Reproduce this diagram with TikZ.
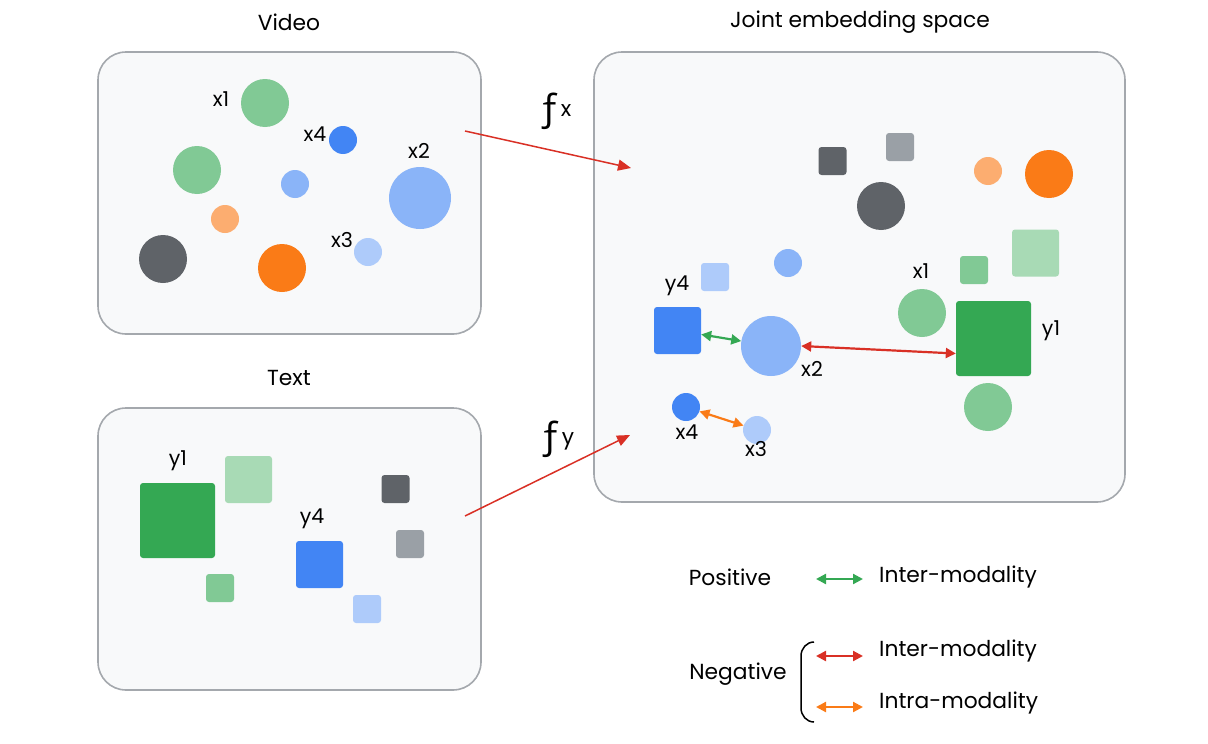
\documentclass[tikz,border=0pt]{standalone}
\usepackage{fontspec}
\setmainfont{Poppins}
\newfontfamily\ffam{Open Sans}
\usetikzlibrary{arrows.meta,calc}
\definecolor{gdark}{HTML}{34A853}
\definecolor{gmid}{HTML}{81C995}
\definecolor{glight}{HTML}{A8DAB5}
\definecolor{bdark}{HTML}{4285F4}
\definecolor{bmid}{HTML}{8AB4F8}
\definecolor{blight}{HTML}{AECBFA}
\definecolor{odark}{HTML}{FA7B17}
\definecolor{olight}{HTML}{FCAD70}
\definecolor{kdark}{HTML}{5F6368}
\definecolor{kmid}{HTML}{9AA0A6}
\definecolor{redc}{HTML}{D93025}
\definecolor{panelfill}{HTML}{F8F9FA}
\definecolor{panelborder}{HTML}{A4A8AD}
\begin{document}
\begin{tikzpicture}[x=1pt,y=-1pt,
  font=\fontsize{21.8}{24}\selectfont,
  panel/.style={draw=panelborder, line width=1.6pt, fill=panelfill, rounded corners=28pt},
  dot/.style={circle, inner sep=0pt, minimum size=#1},
  sq/.style={rectangle, rounded corners=3pt, inner sep=0pt, minimum size=#1},
  lbl/.style={inner sep=0pt},
  small/.style={inner sep=0pt, font=\fontsize{20.5}{23}\selectfont},
  map/.style={draw=redc, line width=1.5pt, -{Triangle[length=13pt,width=11pt]}},
  dbl/.style={line width=2.2pt, {Triangle[length=10pt,width=10pt]}-{Triangle[length=10pt,width=10pt]}}
]
\useasboundingbox (0,0) rectangle (1208,744);

% panels
\draw[panel] (98,52) rectangle (481,334);
\draw[panel] (98,408) rectangle (481,690);
\draw[panel] (594,52) rectangle (1125,502);

% titles
\node[lbl] (tvideo) at (289,22) {Video};
\node[lbl] (ttext) at (289,378) {Text};
\node[lbl] (tjoint) at (860,22) {Joint embedding space};

% video panel
\node[dot=48, fill=gmid] (vx1) at (265,103) {};
\node[small] (lvx1) at (221,99) {x1};
\node[dot=48, fill=gmid] (vg2) at (197,170) {};
\node[dot=28, fill=bdark] (vx4) at (343,140) {};
\node[small] (lvx4) at (315,134) {x4};
\node[dot=28, fill=bmid] (vb2) at (295,184) {};
\node[dot=62, fill=bmid] (vx2) at (420,198) {};
\node[small] (lvx2) at (419,151) {x2};
\node[dot=28, fill=olight] (vo1) at (225,219) {};
\node[dot=48, fill=kdark] (vk1) at (163,259) {};
\node[dot=48, fill=odark] (vo2) at (282,268) {};
\node[dot=28, fill=blight] (vx3) at (368,252) {};
\node[small] (lvx3) at (342,240) {x3};

% text panel
\node[sq=75, fill=gdark] (ty1) at (177.5,520.5) {};
\node[small] (lty1) at (178,461) {y1};
\node[sq=47, fill=glight] (tg2) at (248.5,479.5) {};
\node[sq=28, fill=gmid] (tg3) at (220,588) {};
\node[sq=47, fill=bdark] (ty4) at (319.5,564.5) {};
\node[small] (lty4) at (312,519) {y4};
\node[sq=28, fill=kdark] (tk1) at (395.5,489) {};
\node[sq=28, fill=kmid] (tk2) at (410,544) {};
\node[sq=28, fill=blight] (tb3) at (367,609) {};

% joint space
\node[sq=28, fill=kdark] (jk1) at (832.5,161) {};
\node[sq=28, fill=kmid] (jk2) at (900,147) {};
\node[dot=48, fill=kdark] (jk3) at (881,206) {};
\node[dot=28, fill=olight] (jo1) at (988,171) {};
\node[dot=48, fill=odark] (jo2) at (1049,174) {};
\node[sq=47, fill=glight] (jg1) at (1035.5,253) {};
\node[sq=28, fill=gmid] (jg2) at (974,270) {};
\node[sq=28, fill=blight] (jb1) at (715,277) {};
\node[dot=28, fill=bmid] (jb2) at (788,263) {};
\node[small] (ljx1) at (921,271) {x1};
\node[dot=48, fill=gmid] (jx1) at (922,313) {};
\node[sq=75, fill=gdark] (jy1) at (993.5,338.5) {};
\node[small] (ljy1) at (1051,331) {y1};
\node[dot=48, fill=gmid] (jg3) at (988,407) {};
\node[small] (ljy4) at (677,286) {y4};
\node[sq=47, fill=bdark] (jy4) at (677.5,330.5) {};
\node[dot=60, fill=bmid] (jx2) at (771,346) {};
\node[small] (ljx2) at (812,369) {x2};
\node[dot=28, fill=bdark] (jx4) at (686,407) {};
\node[small] (ljx4) at (687,432) {x4};
\node[dot=28, fill=blight] (jx3) at (757,430) {};
\node[small] (ljx3) at (756,449) {x3};

% pair arrows
\draw[dbl, gdark] (jy4) -- (jx2);
\draw[dbl, redc] (jx2.east) -- ($(jy1.west)+(0,15)$);
\draw[dbl, odark] (jx4) -- (jx3);

% mapping arrows
\coordinate (fxs) at (465,131);
\coordinate (fxe) at (631,168);
\coordinate (fys) at (465,516);
\coordinate (fye) at (630,435);
\draw[map] (fxs) -- (fxe);
\draw[map] (fys) -- (fye);
\node[lbl, anchor=base] (fx) at (555,120) {{\ffam\fontsize{38}{38}\selectfont ƒ}\raisebox{4pt}{x}};
\node[lbl, anchor=base] (fy) at (557,448) {{\ffam\fontsize{38}{38}\selectfont ƒ}\raisebox{4pt}{y}};

% legend
\node[lbl] (lpos) at (730,577) {Positive};
\coordinate (p1) at (816,579);
\coordinate (p2) at (863,579);
\draw[dbl, gdark] (p1) -- (p2);
\node[lbl, anchor=west] (lposi) at (879,577) {Inter-modality};
\node[lbl] (lneg) at (738,674) {Negative};
\coordinate (n1) at (816,656);
\coordinate (n2) at (863,656);
\draw[dbl, redc] (n1) -- (n2);
\node[lbl, anchor=west] (lneg1) at (879,651) {Inter-modality};
\coordinate (o1) at (816,707);
\coordinate (o2) at (863,707);
\draw[dbl, odark] (o1) -- (o2);
\node[lbl, anchor=west] (lneg2) at (879,703) {Intra-modality};
\coordinate (b1) at (814,642);
\coordinate (b2) at (814,722);
\draw[line width=1.5pt] (b1) to[out=180,in=90] (801,656) -- (801,708) to[out=-90,in=180] (b2);
\end{tikzpicture}
\end{document}
